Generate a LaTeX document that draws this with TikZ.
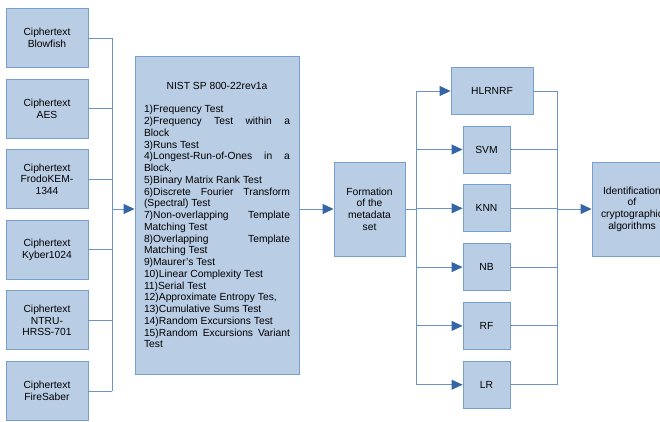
\documentclass[tikz,border=0pt]{standalone}
\usepackage{fontspec}
\setmainfont{Liberation Sans}
\usepackage{tikz}
\usetikzlibrary{arrows.meta,positioning}
\definecolor{boxfill}{RGB}{185,205,229}
\definecolor{boxline}{RGB}{118,158,206}
\definecolor{linkblue}{RGB}{108,147,199}
\definecolor{tipblue}{RGB}{52,101,164}

\begin{document}
\begin{tikzpicture}[x=1pt,y=1pt,
      cipher_box/.style={
         rectangle,
         draw=boxline,
         fill=boxfill,
         line width=0.9pt,
         inner sep=0pt,
         minimum width=82pt,
         minimum height=59pt,
         align=center,
         font=\fontsize{10.3}{11.75}\selectfont},
      step_box/.style={
         cipher_box,
         minimum width=71pt,
         minimum height=94pt},
      clf_box/.style={
         cipher_box,
         minimum width=47pt,
         minimum height=47pt},
      nist_box/.style={
         cipher_box,
         text width=146pt,
         inner xsep=9pt,
         minimum height=318pt,
         align=justify},
      link_blue/.style={
         draw=linkblue,
         line width=0.9pt},
      arrow_blue/.style={
         link_blue,
         -{Triangle[length=11pt,width=10pt,color=tipblue]}}
]
      \useasboundingbox (0,0) rectangle (660,-422);

      %ciphertexts
      \node[cipher_box] (c1) at (47,-38) {Ciphertext\\Blowfish};
      \node[cipher_box,below=10.7pt of c1] (c2) {Ciphertext\\AES};
      \node[cipher_box,below=10.7pt of c2] (c3) {Ciphertext\\FrodoKEM-\\1344};
      \node[cipher_box,below=10.7pt of c3] (c4) {Ciphertext\\Kyber1024};
      \node[cipher_box,below=10.7pt of c4] (c5) {Ciphertext\\NTRU-\\HRSS-701};
      \node[cipher_box,below=10.7pt of c5] (c6) {Ciphertext\\FireSaber};

      %tests
      \node[nist_box] (nist) at (217,-215) {\tolerance=10000\hyphenpenalty=10000\exhyphenpenalty=10000
         {\centering NIST SP 800-22rev1a\par}\vspace{11.75pt}
         1)Frequency Test\par
         2)Frequency Test within a\linebreak Block\par
         3)Runs Test\par
         4)Longest-Run-of-Ones in a\linebreak Block,\par
         5)Binary Matrix Rank Test\par
         6)Discrete Fourier Transform\linebreak (Spectral) Test\par
         7)Non-overlapping Template\linebreak Matching Test\par
         8)Overlapping Template\linebreak Matching Test\par
         9)Maurer's Test\par
         10)Linear Complexity Test\par
         11)Serial Test\par
         12)Approximate Entropy Tes,\par
         13)Cumulative Sums Test\par
         14)Random Excursions Test\par
         15)Random Excursions Variant\linebreak Test};

      \node[step_box] (form) at (369.5,-209) {Formation\\of the\\metadata\\set};

      %classifiers
      \node[clf_box,minimum width=82pt] (hlrnrf) at (492,-91) {HLRNRF};
      \node[clf_box] (svm) at (486.5,-149.5) {SVM};
      \node[clf_box,below=10.9pt of svm] (knn) {KNN};
      \node[clf_box,below=10.9pt of knn] (nb) {NB};
      \node[clf_box,below=10.9pt of nb] (rf) {RF};
      \node[clf_box,below=10.9pt of rf] (lr) {LR};

      \node[step_box,minimum width=80pt] (ident) at (632,-209) {Identification\\of\\cryptographic\\algorithms};

      \coordinate (lbus) at (112,-209);
      \coordinate (dbus) at (416,-209);
      \coordinate (cbus) at (557,-209);

      \foreach \c in {c1,c2,c3,c4,c5,c6}
        \draw[link_blue] (\c.east) -- (\c.east -| lbus);
      \draw[link_blue] (c1.east -| lbus) -- (c6.east -| lbus);
      \draw[arrow_blue] (lbus) -- (lbus -| nist.west);
      \draw[arrow_blue] (nist.east |- form) -- (form.west);
      \draw[link_blue] (form.east) -- (dbus);
      \draw[link_blue] (hlrnrf.west -| dbus) -- (lr.west -| dbus);
      \foreach \m in {hlrnrf,svm,knn,nb,rf,lr}{
        \draw[arrow_blue] (\m.west -| dbus) -- (\m.west);
        \draw[link_blue] (\m.east) -- (\m.east -| cbus);
      }
      \draw[link_blue] (hlrnrf.east -| cbus) -- (lr.east -| cbus);
      \draw[arrow_blue] (cbus) -- (ident.west);
\end{tikzpicture}
\end{document}
